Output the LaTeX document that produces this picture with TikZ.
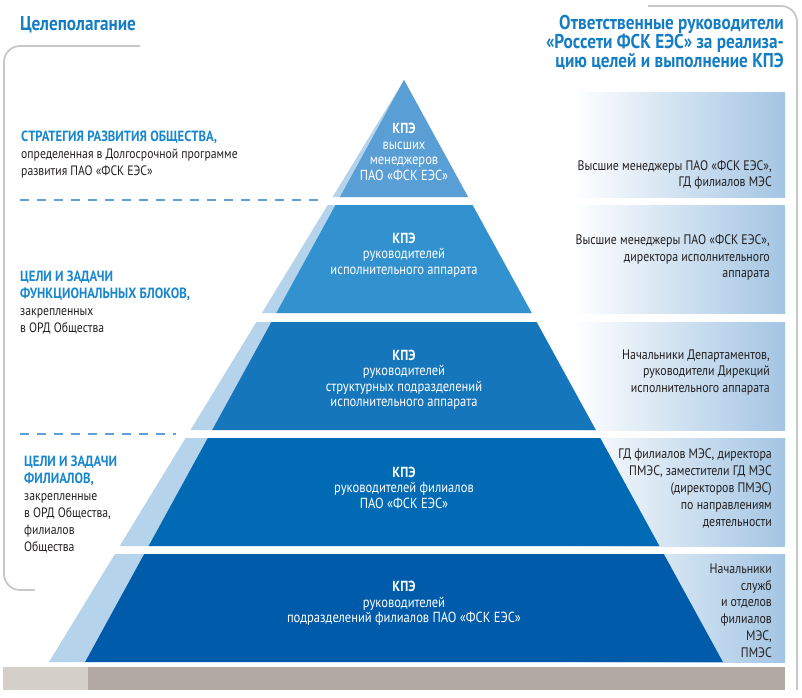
\documentclass[tikz,border=0pt]{standalone}
\usepackage{fontspec}
\setmainfont{PT Sans}[FakeStretch=0.86]
\usetikzlibrary{shadings}
\definecolor{titleblue}{RGB}{20,125,195}
\definecolor{capblue}{RGB}{25,135,205}
\definecolor{dashblue}{RGB}{95,160,215}
\definecolor{lvA}{RGB}{90,158,214}
\definecolor{lvB}{RGB}{50,146,208}
\definecolor{lvC}{RGB}{22,118,188}
\definecolor{lvD}{RGB}{0,106,181}
\definecolor{lvE}{RGB}{0,92,171}
\definecolor{strip}{RGB}{181,211,234}
\definecolor{boxblue}{RGB}{163,197,228}
\definecolor{baseL}{RGB}{212,207,201}
\definecolor{baseD}{RGB}{177,169,162}
\definecolor{frame}{RGB}{200,200,200}
\definecolor{txt}{RGB}{35,31,32}
\tikzset{
  ptext/.style={inner sep=0pt, align=center, text=white, font=\fontsize{14.6}{15.5}\selectfont},
  ltext/.style={inner sep=0pt, anchor=west, align=left, text=txt, font=\fontsize{13.6}{17}\selectfont},
  rtext/.style={inner sep=0pt, anchor=east, align=right, text=txt, font=\fontsize{13.8}{16.8}\selectfont},
  rbox/.style={left color=white, right color=boxblue, draw=none},
  dline/.style={dashblue, line width=1.3pt, dash pattern=on 9pt off 8pt},
  bracket/.style={frame, line width=1.8pt, rounded corners=16pt},
}
\newcommand{\capblue}[1]{{\color{capblue}\bfseries\fontsize{14.8}{17}\selectfont #1}}
\begin{document}
\begin{tikzpicture}[x=1pt,y=-1pt]
\useasboundingbox (0,0) rectangle (802,697);
% brackets
\draw[bracket] (140,46) -- (4,46) -- (4,590) -- (35,590);
\draw[bracket] (648,6) -- (797,6) -- (797,690);
% right gradient boxes
\shade[rbox] (572,92) rectangle (785,197);
\shade[rbox] (572,205) rectangle (785,313);
\shade[rbox] (572,322) rectangle (785,430);
\shade[rbox] (572,438) rectangle (785,546);
\shade[rbox] (572,554) rectangle (785,662);
% base
\fill[baseL] (3,667) rectangle (88,690);
\fill[baseD] (88,667) rectangle (785,690);
% pyramid: light strips
\fill[strip] (404,80) -- (468.1,197) -- (332.6,197) -- cycle;
\fill[strip] (327.75,205) -- (472.5,205) -- (531.7,313) -- (261.9,313) -- cycle;
\fill[strip] (256.4,322) -- (536.6,322) -- (595.8,430) -- (190.5,430) -- cycle;
\fill[strip] (185.6,438) -- (600.2,438) -- (659.4,546) -- (119.7,546) -- cycle;
\fill[strip] (114.9,554) -- (663.8,554) -- (722.9,662) -- (49.0,662) -- cycle;
% pyramid: dark levels
\fill[lvA] (404,80) -- (468.1,197) -- (339.9,197) -- cycle;
\fill[lvB] (335.5,205) -- (472.5,205) -- (531.7,313) -- (276.3,313) -- cycle;
\fill[lvC] (271.4,322) -- (536.6,322) -- (595.8,430) -- (212.2,430) -- cycle;
\fill[lvD] (207.8,438) -- (600.2,438) -- (659.4,546) -- (148.6,546) -- cycle;
\fill[lvE] (144.2,554) -- (663.8,554) -- (722.9,662) -- (85.1,662) -- cycle;
% dashed separators
\coordinate (d1a) at (20,200); \coordinate (d1b) at (318,200);
\coordinate (d2a) at (20,434); \coordinate (d2b) at (176,434);
\draw[dline] (d1a) -- (d1b);
\draw[dline] (d2a) -- (d2b);
% titles
\node[inner sep=0pt, anchor=west, text=titleblue, font=\fontsize{20}{20}\selectfont\bfseries] (tL) at (20,25) {Целеполагание};
\node[inner sep=0pt, anchor=east, align=right, text=titleblue, font=\fontsize{20}{17.5}\selectfont\bfseries] (tR) at (784,42.5) {Ответственные руководители\\«Россети ФСК ЕЭС» за реализа-\\цию целей и выполнение КПЭ};
% pyramid texts
\node[ptext] (p1) at (404,152) {\textbf{КПЭ}\\высших\\менеджеров\\ПАО «ФСК ЕЭС»};
\node[ptext] (p2) at (404,255) {\textbf{КПЭ}\\руководителей\\исполнительного аппарата};
\node[ptext] (p3) at (404,379.5) {\textbf{КПЭ}\\руководителей\\структурных подразделений\\исполнительного аппарата};
\node[ptext] (p4) at (404,487.5) {\textbf{КПЭ}\\руководителей филиалов\\ПАО «ФСК ЕЭС»};
\node[ptext] (p5) at (404,603.5) {\textbf{КПЭ}\\руководителей\\подразделений филиалов ПАО «ФСК ЕЭС»};
% left texts
\node[ltext] (l1) at (21,154.5) {\capblue{СТРАТЕГИЯ РАЗВИТИЯ ОБЩЕСТВА,}\\определенная в Долгосрочной программе\\развития ПАО «ФСК ЕЭС»};
\node[ltext] (l2) at (20,303) {\capblue{ЦЕЛИ И ЗАДАЧИ}\\\capblue{ФУНКЦИОНАЛЬНЫХ БЛОКОВ,}\\закрепленных\\в ОРД Общества};
\node[ltext] (l3) at (24,504.5) {\capblue{ЦЕЛИ И ЗАДАЧИ}\\\capblue{ФИЛИАЛОВ,}\\закрепленные\\в ОРД Общества,\\филиалов\\Общества};
% right texts
\node[rtext] (r1) at (772,175) {Высшие менеджеры ПАО «ФСК ЕЭС»,\\ГД филиалов МЭС};
\node[rtext] (r2) at (770,257.5) {Высшие менеджеры ПАО «ФСК ЕЭС»,\\директора исполнительного\\аппарата};
\node[rtext] (r3) at (770,372.5) {Начальники Департаментов,\\руководители Дирекций\\исполнительного аппарата};
\node[rtext] (r4) at (772,488.5) {ГД филиалов МЭС, директора\\ПМЭС, заместители ГД МЭС\\(директоров ПМЭС)\\по направлениям\\деятельности};
\node[rtext] (r5) at (772,610.5) {Начальники\\служб\\и отделов\\филиалов\\МЭС,\\ПМЭС};
\end{tikzpicture}
\end{document}
